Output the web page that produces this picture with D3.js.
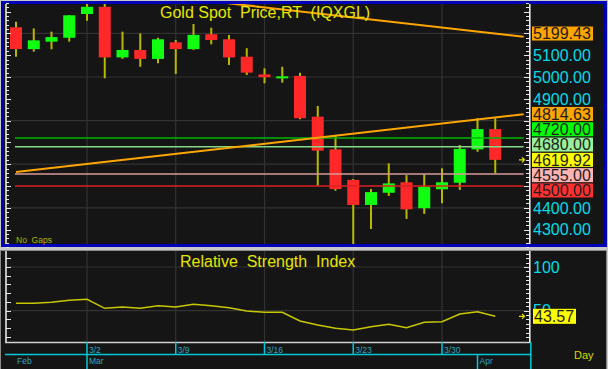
<!DOCTYPE html>
<html>
<head>
<meta charset="utf-8">
<script src="https://cdn.jsdelivr.net/npm/d3@7"></script>
<style>
  body { margin: 0; background: #c8c8c8; }
  svg { display: block; font-family: "Liberation Sans", Arial, sans-serif; }
  .pre { white-space: pre; }
</style>
</head>
<body>
<svg id="chart" width="608" height="369"></svg>
<script>
// daily candles, Feb 24 .. Apr 2 (no gaps)
const dates = ['2/24','2/25','2/26','2/27','3/2','3/3','3/4','3/5','3/6','3/9','3/10','3/11','3/12','3/13',
  '3/16','3/17','3/18','3/19','3/20','3/23','3/24','3/25','3/26','3/27','3/30','3/31','4/1','4/2'];
const open  = [5228,5128,5162,5180,5289,5322,5090,5124,5083,5159,5128,5196,5173,5093,
  5012,5000,5005,4818,4668,4528,4413,4469,4517,4398,4485,4515,4668,4761];
const high  = [5254,5223,5208,5284,5340,5350,5208,5200,5180,5170,5243,5226,5193,5132,
  5040,5047,5020,4867,4734,4532,4486,4604,4550,4554,4581,4688,4812,4811];
const low   = [5093,5116,5127,5162,5258,4994,5083,5047,5063,5014,5124,5150,5055,5009,
  4971,4974,4806,4500,4478,4234,4303,4454,4349,4372,4421,4482,4657,4558];
const close = [5128,5168,5183,5283,5322,5090,5124,5083,5173,5128,5193,5170,5090,5020,
  4999,5003,4811,4662,4486,4413,4472,4512,4393,4497,4517,4670,4761,4619.92];
const rsi = [58.5,58.5,59.6,61.9,63.0,52.7,54.2,52.7,55.7,54.2,57.3,55.7,53.4,49.7,
  48.2,48.2,38.2,33.6,29.9,27.9,31.7,34.4,30.5,36.7,37.4,46.2,48.9,43.57];

// horizontal price levels
const levels = [4720, 4680, 4555, 4500];
const levelColors = ['#00b400', '#86d886', '#d89a9a', '#dc2020'];
const levelTagColors = ['#00ff00', '#98f098', '#ffb4b4', '#ff3030'];

// trend lines as [day index, price]
const upperTrend = [[12, 5338], [27, 5199.43]];
const lowerTrend = [[0, 4564], [27, 4814.63]];

const weekLabels = ['3/2', '3/9', '3/16', '3/23', '3/30'];
const monthLabels = ['Feb', 'Mar', 'Apr'];
const monthStarts = ['2/24', '3/2', '4/1'];
const priceTicks = d3.range(4300, 5201, 100);
const rsiTicks = [50, 100];

const svg = d3.select('#chart');
const last = dates.length - 1;
const xEnd = last + 1.6;

const x = d3.scaleLinear().domain([0, last]).range([16, 495.25]);
const y = d3.scaleLinear().domain([4300, 5000]).range([229.6, 77]);
const yr = d3.scaleLinear().domain([50, 100]).range([310.7, 267]);

// panels
svg.append('rect').attr('x', 1).attr('y', 1).attr('width', 606).attr('height', 246).attr('fill', '#0000b8');
svg.append('rect').attr('x', 4).attr('y', 4).attr('width', 599).attr('height', 240).attr('fill', '#151515');
svg.append('rect').attr('x', 0.5).attr('y', 250.5).attr('width', 606).attr('height', 119)
  .attr('fill', '#151515').attr('stroke', '#8a8a8a');

const defs = svg.append('defs');
defs.append('clipPath').attr('id', 'clipMain').append('rect')
  .attr('x', 7).attr('y', 4).attr('width', 521).attr('height', 240);
defs.append('clipPath').attr('id', 'clipRsi').append('rect')
  .attr('x', 7).attr('y', 251).attr('width', 521).attr('height', 91);

const weekIdx = weekLabels.map(function(d) { return dates.indexOf(d); });

// ---------- main price panel ----------
const main = svg.append('g').attr('clip-path', 'url(#clipMain)');

main.selectAll('.vgrid').data(weekIdx).enter().append('line')
  .attr('x1', function(d) { return x(d); }).attr('x2', function(d) { return x(d); })
  .attr('y1', 4).attr('y2', 244).attr('stroke', '#333').attr('stroke-width', 1.2);
main.selectAll('.hgrid').data([5200, 5000, 4800, 4600, 4400]).enter().append('line')
  .attr('x1', 7).attr('x2', 528)
  .attr('y1', function(d) { return y(d); }).attr('y2', function(d) { return y(d); })
  .attr('stroke', '#333').attr('stroke-width', 1.2);

const candles = main.selectAll('.candle').data(dates).enter().append('g');
candles.append('line')
  .attr('x1', function(d, i) { return x(i); }).attr('x2', function(d, i) { return x(i); })
  .attr('y1', function(d, i) { return y(high[i]); }).attr('y2', function(d, i) { return y(low[i]); })
  .attr('stroke', '#b8b800').attr('stroke-width', 2);
candles.append('rect')
  .attr('x', function(d, i) { return x(i) - 6; })
  .attr('width', 12)
  .attr('y', function(d, i) { return y(Math.max(open[i], close[i])); })
  .attr('height', function(d, i) { return Math.max(2, Math.abs(y(open[i]) - y(close[i]))); })
  .attr('fill', function(d, i) { return close[i] >= open[i] ? '#10ff10' : '#ff2828'; });

main.selectAll('.level').data(levels).enter().append('line')
  .attr('x1', x(0) - 1).attr('x2', x(xEnd))
  .attr('y1', function(d) { return y(d); }).attr('y2', function(d) { return y(d); })
  .attr('stroke', function(d, i) { return levelColors[i]; }).attr('stroke-width', 1.6);

function trendLine(pts, from) {
  const slope = (pts[1][1] - pts[0][1]) / (pts[1][0] - pts[0][0]);
  const at = function(i) { return pts[0][1] + slope * (i - pts[0][0]); };
  return [[from, at(from)], [xEnd, at(xEnd)]];
}
const line = d3.line().x(function(d) { return x(d[0]); }).y(function(d) { return y(d[1]); });
main.selectAll('.trend').data([trendLine(upperTrend, 0), trendLine(lowerTrend, 0)]).enter().append('path')
  .attr('d', line).attr('fill', 'none').attr('stroke', '#ffa500').attr('stroke-width', 2);

// axes lines and ticks
function axisTicks(g, xPos, dir, values, scale, isMajor) {
  g.append('line').attr('x1', xPos).attr('x2', xPos)
    .attr('y1', scale.range()[0] < scale.range()[1] ? 0 : 0);
  g.selectAll('.t').data(values).enter().append('line')
    .attr('x1', xPos).attr('x2', function(d) { return xPos + dir * (isMajor(d) ? 5 : 3); })
    .attr('y1', function(d) { return Math.round(scale(d)) + 0.5; })
    .attr('y2', function(d) { return Math.round(scale(d)) + 0.5; })
    .attr('stroke', '#e8e8e8').attr('stroke-width', 1);
}
const priceMinor = d3.range(4220, 5361, 20);
const gl = svg.append('g');
gl.append('line').attr('x1', 6).attr('x2', 6).attr('y1', 4).attr('y2', 244).attr('stroke', '#e8e8e8').attr('stroke-width', 1.6);
axisTicks(gl, 6, 1, priceMinor, y, function(d) { return d % 100 === 0; });
gl.append('line').attr('x1', 529.8).attr('x2', 529.8).attr('y1', 4).attr('y2', 244).attr('stroke', '#e8e8e8').attr('stroke-width', 1.6);
axisTicks(gl, 529, -1, priceMinor, y, function(d) { return d % 100 === 0; });

main.append('text').attr('class', 'pre').attr('x', 160).attr('y', 18)
  .attr('font-size', 16).attr('fill', '#e6e600').text('Gold Spot  Price,RT  (IQXGL)');
svg.append('text').attr('class', 'pre').attr('x', 16).attr('y', 242.5)
  .attr('font-size', 8.5).attr('fill', '#b0b400').text('No  Gaps');

// right price tags, stacked around the last close
const tags = [{ v: upperTrend[1][1], c: '#ffa500' }, { v: lowerTrend[1][1], c: '#ffa500' }]
  .concat(levels.map(function(d, i) { return { v: d, c: levelTagColors[i] }; }))
  .concat([{ v: close[last], c: '#ffff00', anchor: true }]);
tags.forEach(function(t) { t.y = y(t.v); });
const anchor = tags.find(function(t) { return t.anchor; });
const above = tags.filter(function(t) { return t.v > anchor.v; }).sort(function(a, b) { return a.v - b.v; });
const below = tags.filter(function(t) { return t.v < anchor.v; }).sort(function(a, b) { return b.v - a.v; });
let prev = anchor.y;
above.forEach(function(t) { t.y = Math.min(t.y, prev - 15.3); prev = t.y; });
prev = anchor.y;
below.forEach(function(t) { t.y = Math.max(t.y, prev + 15.3); prev = t.y; });

svg.selectAll('.ptick').data(priceTicks.filter(function(d) {
  return tags.every(function(t) { return Math.abs(t.y - y(d)) > 14; });
})).enter().append('text')
  .attr('x', 533).attr('y', function(d) { return y(d); }).attr('dy', '0.36em')
  .attr('font-size', 16).attr('fill', '#00dce8').text(function(d) { return d3.format('.2f')(d); });

const tagG = svg.selectAll('.tag').data(tags).enter().append('g');
tagG.append('rect').attr('x', 532).attr('y', function(d) { return d.y - 7; })
  .attr('width', 61).attr('height', 14).attr('fill', function(d) { return d.c; });
tagG.append('text').attr('x', 533).attr('y', function(d) { return d.y; }).attr('dy', '0.36em')
  .attr('font-size', 16).attr('fill', '#1e1e1e').text(function(d) { return d3.format('.2f')(d.v); });

function arrow(yPos) {
  svg.append('path').attr('d', 'M' + 519 + ',' + yPos + 'h5M' + 522 + ',' + (yPos - 2.5) + 'l2.5,2.5l-2.5,2.5')
    .attr('fill', 'none').attr('stroke', '#e6e600').attr('stroke-width', 1.2);
}
arrow(y(close[last]));

// ---------- RSI panel ----------
const rg = svg.append('g').attr('clip-path', 'url(#clipRsi)');
rg.selectAll('.vgrid').data(weekIdx).enter().append('line')
  .attr('x1', function(d) { return x(d); }).attr('x2', function(d) { return x(d); })
  .attr('y1', 251).attr('y2', 342).attr('stroke', '#333').attr('stroke-width', 1.2);
rg.selectAll('.hgrid').data(rsiTicks).enter().append('line')
  .attr('x1', 7).attr('x2', 528)
  .attr('y1', function(d) { return yr(d); }).attr('y2', function(d) { return yr(d); })
  .attr('stroke', '#333').attr('stroke-width', 1.2);
rg.append('path').datum(rsi)
  .attr('d', d3.line().x(function(d, i) { return x(i); }).y(function(d) { return yr(d); }))
  .attr('fill', 'none').attr('stroke', '#c8c800').attr('stroke-width', 1.5);
rg.append('text').attr('class', 'pre').attr('x', 180).attr('y', 267)
  .attr('font-size', 16).attr('fill', '#e6e600').text('Relative  Strength  Index');

const rsiMinor = d3.range(10, 121, 10);
const ga = svg.append('g');
ga.append('line').attr('x1', 6).attr('x2', 6).attr('y1', 251).attr('y2', 342).attr('stroke', '#e8e8e8').attr('stroke-width', 1.6);
axisTicks(ga, 6, 1, rsiMinor.filter(function(d) { return yr(d) > 253 && yr(d) < 341; }), yr, function() { return true; });
ga.append('line').attr('x1', 529.8).attr('x2', 529.8).attr('y1', 251).attr('y2', 342).attr('stroke', '#e8e8e8').attr('stroke-width', 1.6);
axisTicks(ga, 529, -1, d3.range(15, 120, 5).filter(function(d) { return yr(d) > 253 && yr(d) < 341; }), yr, function(d) { return d % 50 === 0; });

svg.selectAll('.rtick').data(rsiTicks).enter().append('text')
  .attr('x', 533).attr('y', function(d) { return yr(d); }).attr('dy', '0.36em')
  .attr('font-size', 16).attr('fill', '#00dce8').text(function(d) { return d; });
const rsiLast = rsi[last];
svg.append('rect').attr('x', 533).attr('y', yr(rsiLast) - 7.5).attr('width', 43).attr('height', 15).attr('fill', '#ffff00');
svg.append('text').attr('x', 534).attr('y', yr(rsiLast)).attr('dy', '0.36em')
  .attr('font-size', 16).attr('fill', '#1e1e1e').text(d3.format('.2f')(rsiLast));
arrow(yr(rsiLast));

// ---------- date axis ----------
const da = svg.append('g');
da.append('line').attr('x1', 5).attr('x2', 531).attr('y1', 342.5).attr('y2', 342.5).attr('stroke', '#d0d0d0').attr('stroke-width', 1.5);
da.append('line').attr('x1', 5).attr('x2', 531).attr('y1', 354.5).attr('y2', 354.5).attr('stroke', '#00c8d8').attr('stroke-width', 1.5);
da.append('line').attr('x1', 530.8).attr('x2', 530.8).attr('y1', 342).attr('y2', 369).attr('stroke', '#00c8d8').attr('stroke-width', 1.5);
da.selectAll('.wk').data(weekIdx).enter().append('line')
  .attr('x1', function(d) { return x(d); }).attr('x2', function(d) { return x(d); })
  .attr('y1', 342).attr('y2', 354).attr('stroke', '#00c8d8').attr('stroke-width', 1.5);
da.selectAll('.wkl').data(weekIdx).enter().append('text')
  .attr('x', function(d) { return x(d) + 2; }).attr('y', 352.5)
  .attr('font-size', 8.5).attr('fill', '#30a8c0').text(function(d, i) { return weekLabels[i]; });
const monthIdx = monthStarts.map(function(d) { return dates.indexOf(d); });
da.selectAll('.mo').data(monthIdx.slice(1)).enter().append('line')
  .attr('x1', function(d) { return x(d); }).attr('x2', function(d) { return x(d); })
  .attr('y1', 354).attr('y2', 369).attr('stroke', '#00c8d8').attr('stroke-width', 1.5);
da.selectAll('.mol').data(monthIdx).enter().append('text')
  .attr('x', function(d, i) { return i === 0 ? x(d) + 1 : x(d) + 2; }).attr('y', 364)
  .attr('font-size', 8.5).attr('fill', '#30a8c0').text(function(d, i) { return monthLabels[i]; });
svg.append('text').attr('x', 574).attr('y', 359).attr('font-size', 11).attr('fill', '#d8d800').text('Day');
</script>
</body>
</html>
